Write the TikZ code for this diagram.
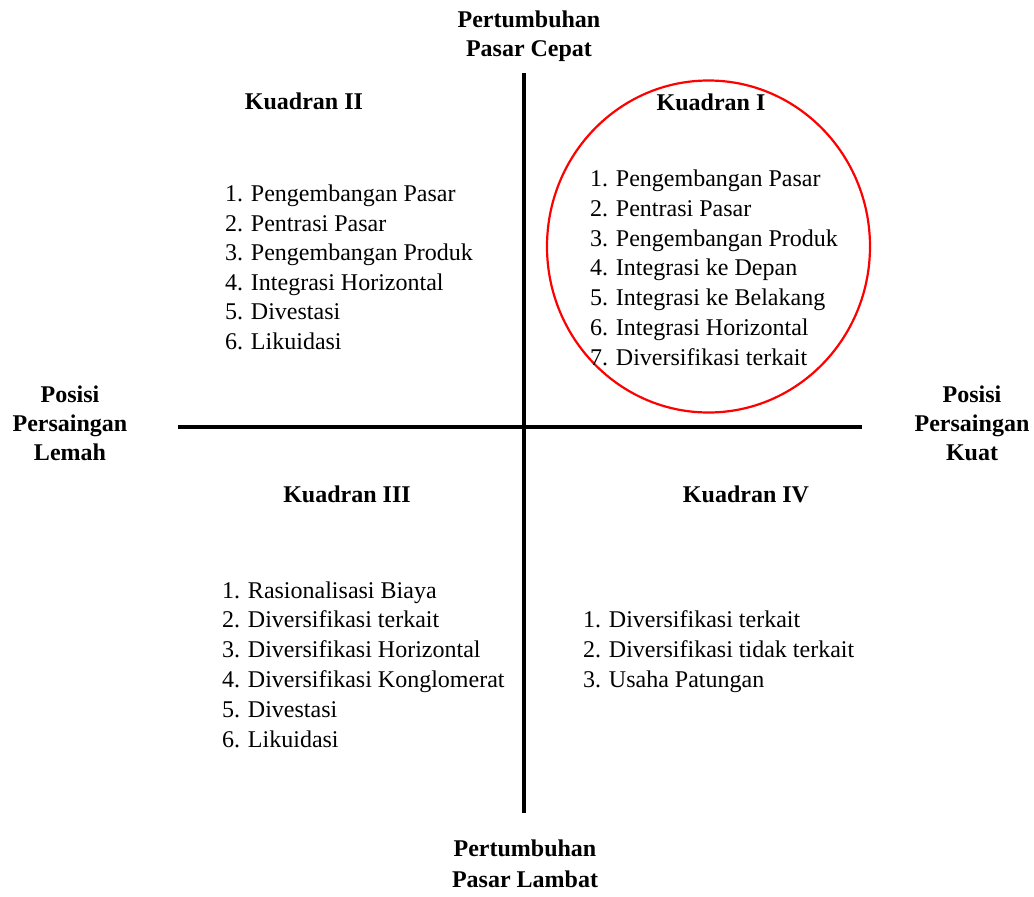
\documentclass[tikz,border=0pt]{standalone}
\usepackage{fontspec}
\setmainfont{Liberation Serif}
\begin{document}
\begin{tikzpicture}[x=1pt,y=-1pt,
  txt/.style={font=\fontsize{24}{30}\selectfont, inner sep=0pt, outer sep=0pt},
  listtxt/.style={txt, align=left, anchor=base west},
  head/.style={txt, font=\fontsize{24}{30}\selectfont\bfseries, anchor=base},
  lab/.style={txt, font=\fontsize{24}{29}\selectfont\bfseries, align=center, anchor=base},
  axis/.style={line width=3.6pt, black},
  ring/.style={draw=red, line width=2.2pt}]
\useasboundingbox (0,0) rectangle (1034,897);
\fill[white] (0,0) rectangle (1034,897);
% axes
\coordinate (t) at (524,73);
\coordinate (b) at (524,813);
\coordinate (l) at (178,427);
\coordinate (r) at (862,427);
\draw[axis] (t) -- (b);
\draw[axis, line width=4.2pt] (l) -- (r);
% circle around Kuadran I
\coordinate (cc) at (708.5,246.5);
\draw[ring] (cc) ellipse [x radius=161.5pt, y radius=166pt];
% axis labels (base anchor = baseline of last line)
\node[lab] (top) at (529,56) {Pertumbuhan\\Pasar Cepat};
\node[lab, font=\fontsize{24}{31}\selectfont\bfseries] (bot) at (525,887) {Pertumbuhan\\Pasar Lambat};
\node[lab] (left) at (70,460) {Posisi\\Persaingan\\Lemah};
\node[lab] (right) at (972,460) {Posisi\\Persaingan\\Kuat};
% headings
\node[head] (h1) at (711,110) {Kuadran I};
\node[head] (h2) at (304,109) {Kuadran II};
\node[head] (h3) at (347,502) {Kuadran III};
\node[head] (h4) at (746,502) {Kuadran IV};
% lists
\node[listtxt, font=\fontsize{24}{29.7}\selectfont] (l1) at (590,365) {1. Pengembangan Pasar\\2. Pentrasi Pasar\\3. Pengembangan Produk\\4. Integrasi ke Depan\\5. Integrasi ke Belakang\\6. Integrasi Horizontal\\7. Diversifikasi terkait};
\node[listtxt, font=\fontsize{24}{29.5}\selectfont] (l2) at (225,349) {1. Pengembangan Pasar\\2. Pentrasi Pasar\\3. Pengembangan Produk\\4. Integrasi Horizontal\\5. Divestasi\\6. Likuidasi};
\node[listtxt, font=\fontsize{24}{29.8}\selectfont] (l3) at (222,747) {1. Rasionalisasi Biaya\\2. Diversifikasi terkait\\3. Diversifikasi Horizontal\\4. Diversifikasi Konglomerat\\5. Divestasi\\6. Likuidasi};
\node[listtxt] (l4) at (583,687) {1. Diversifikasi terkait\\2. Diversifikasi tidak terkait\\3. Usaha Patungan};
\end{tikzpicture}
\end{document}
